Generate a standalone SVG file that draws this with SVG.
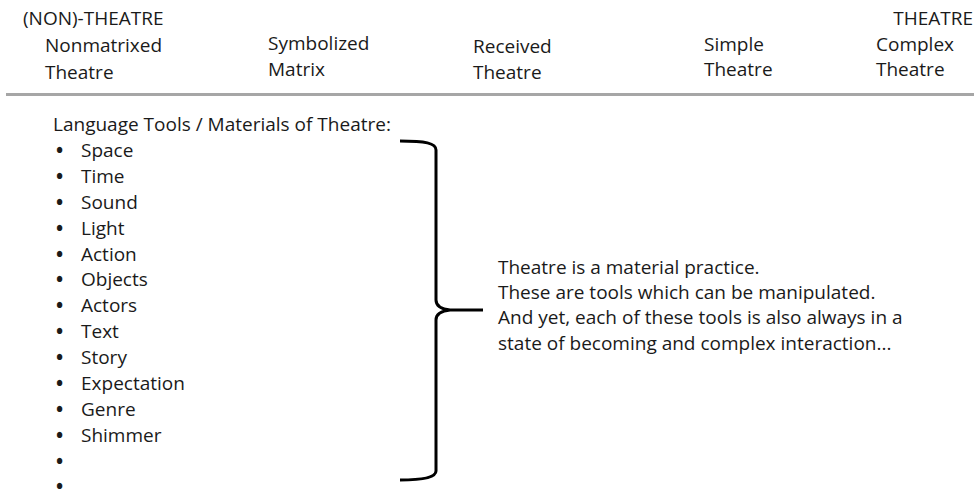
<svg xmlns="http://www.w3.org/2000/svg" width="974" height="490" viewBox="0 0 974 490">
<style>
text{font-family:"Open Sans","Noto Sans","Liberation Sans",sans-serif;font-size:19px;fill:#1a1a1a}
tspan.b{font-weight:bold}
.brace{fill:none;stroke:#000;stroke-width:3;stroke-linecap:butt;stroke-linejoin:round}
</style>
<rect width="974" height="490" fill="#fff"/>
<g id="scale">
<text x="23" y="25">(NON)-THEATRE</text>
<text x="973" y="25" text-anchor="end">THEATRE</text>
<text x="45" y="52">Nonmatrixed</text>
<text x="45" y="79">Theatre</text>
<text x="268" y="50">Symbolized</text>
<text x="268" y="76">Matrix</text>
<text x="473" y="53">Received</text>
<text x="473" y="79">Theatre</text>
<text x="704" y="51">Simple</text>
<text x="704" y="76">Theatre</text>
<text x="876" y="51">Complex</text>
<text x="876" y="76">Theatre</text>
<line x1="6" y1="94.5" x2="974" y2="94.5" stroke="#a6a6a6" stroke-width="3"/>
</g>
<g id="list">
<text x="53" y="131">Language Tools / Materials of Theatre:</text>
<g id="bullets">
<text x="56" y="157"><tspan class="b">•</tspan><tspan x="81">Space</tspan></text>
<text x="56" y="183"><tspan class="b">•</tspan><tspan x="81">Time</tspan></text>
<text x="56" y="209"><tspan class="b">•</tspan><tspan x="81">Sound</tspan></text>
<text x="56" y="235"><tspan class="b">•</tspan><tspan x="81">Light</tspan></text>
<text x="56" y="261"><tspan class="b">•</tspan><tspan x="81">Action</tspan></text>
<text x="56" y="286"><tspan class="b">•</tspan><tspan x="81">Objects</tspan></text>
<text x="56" y="312"><tspan class="b">•</tspan><tspan x="81">Actors</tspan></text>
<text x="56" y="338"><tspan class="b">•</tspan><tspan x="81">Text</tspan></text>
<text x="56" y="364"><tspan class="b">•</tspan><tspan x="81">Story</tspan></text>
<text x="56" y="390"><tspan class="b">•</tspan><tspan x="81">Expectation</tspan></text>
<text x="56" y="416"><tspan class="b">•</tspan><tspan x="81">Genre</tspan></text>
<text x="56" y="442"><tspan class="b">•</tspan><tspan x="81">Shimmer</tspan></text>
<text x="56" y="468"><tspan class="b">•</tspan></text>
<text x="56" y="493"><tspan class="b">•</tspan></text>
</g>
</g>
<g id="connectors">
<path class="brace" d="M400,141 C425,141 436,143 436,150 V300 C436,306 441,309 450,310 H483 M450,310 C441,311 436,314 436,320 V471 C436,477 425,480 400,480"/>
</g>
<g id="note">
<text x="498" y="274">Theatre is a material practice.</text>
<text x="498" y="299">These are tools which can be manipulated.</text>
<text x="498" y="324">And yet, each of these tools is also always in a</text>
<text x="498" y="350">state of becoming and complex interaction...</text>
</g>
</svg>
